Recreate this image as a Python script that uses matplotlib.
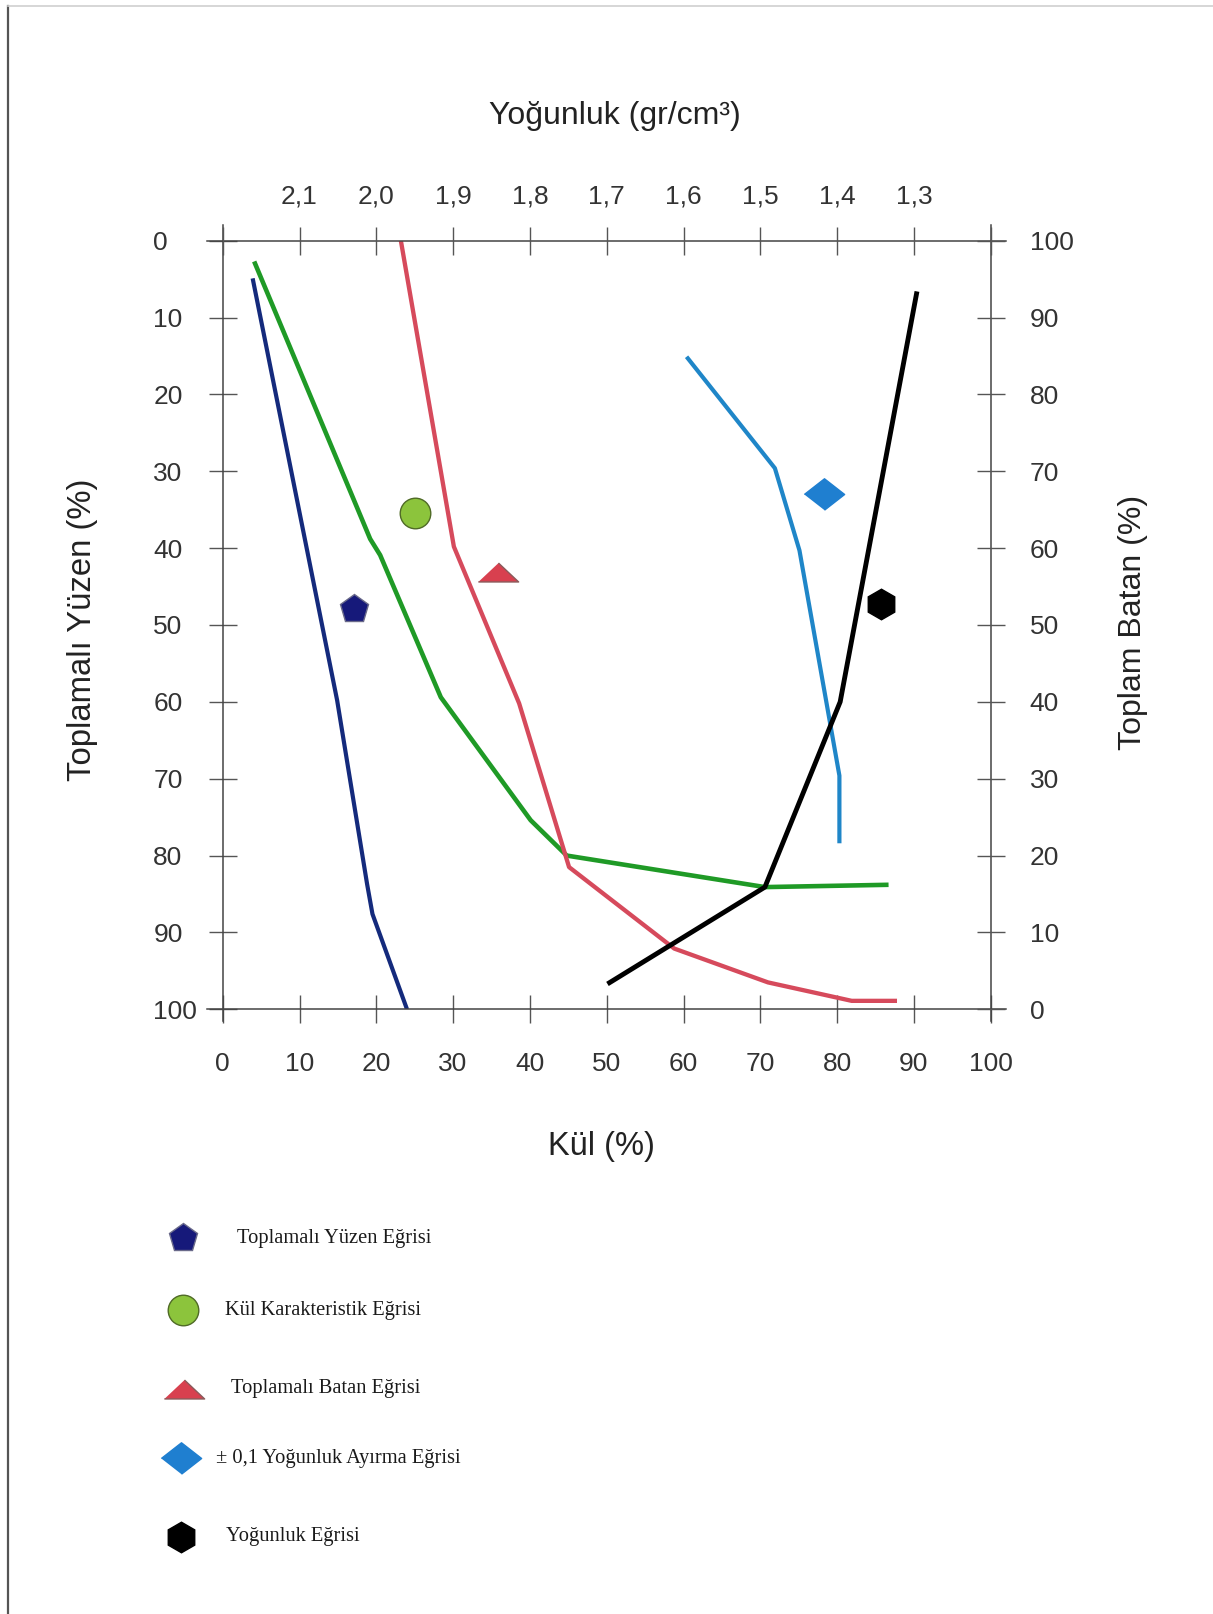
import matplotlib.pyplot as plt

plt.rcParams['font.family'] = ['Liberation Sans', 'DejaVu Sans']

# curves: ash % (x) vs cumulative % on the left scale (y)
yuzen_kul = [3.9, 14.9, 18.8, 19.5, 24.0]
yuzen_pct = [4.9, 59.8, 83.7, 87.6, 100.0]

kul_kar_x = [4.1, 19.2, 20.5, 28.4, 40.1, 44.8, 70.6, 86.7]
kul_kar_y = [2.7, 38.8, 40.9, 59.4, 75.4, 80.0, 84.1, 83.8]

batan_kul = [23.2, 30.1, 38.6, 45.1, 58.8, 71.0, 81.9, 87.8]
batan_pct = [0.0, 39.8, 60.2, 81.5, 92.1, 96.5, 98.9, 98.9]

ayirma_x = [60.4, 71.9, 75.1, 80.3, 80.3]
ayirma_y = [15.1, 29.6, 40.3, 69.6, 78.4]

yog_x = [50.1, 70.6, 80.4, 90.4]
yog_y = [96.7, 84.1, 60.0, 6.6]

# marker positions inside the plot
mark_x = [17.05, 25.0, 35.8, 78.3, 85.7]
mark_y = [47.9, 35.4, 43.1, 33.0, 47.3]

ticks = list(range(0, 101, 10))
density_labels = ['', '2,1', '2,0', '1,9', '1,8', '1,7', '1,6', '1,5', '1,4', '1,3', '']

legend_labels = ['Toplamalı Yüzen Eğrisi', 'Kül Karakteristik Eğrisi',
                 'Toplamalı Batan Eğrisi', '± 0,1 Yoğunluk Ayırma Eğrisi',
                 'Yoğunluk Eğrisi']

tri = [(-1, -0.47), (1, -0.47), (0, 0.47)]
dia = [(-1, 0), (0, 0.78), (1, 0), (0, -0.78)]
styles = [
    dict(marker='p', ms=21, mfc='#16197a', mec='#6a6a8a', mew=1),
    dict(marker='o', ms=22, mfc='#8cc43c', mec='#4f6a26', mew=1),
    dict(marker=tri, ms=29, mfc='#d8404f', mec='#8a5a5a', mew=1),
    dict(marker=dia, ms=29, mfc='#1f7fd0', mec='#1f7fd0', mew=1),
    dict(marker='h', ms=22, mfc='#000000', mec='#000000', mew=1),
]

W, H = 1213, 1614
fig = plt.figure(figsize=(W / 100, H / 100), dpi=100)
ax = fig.add_axes([222.7 / W, 1 - 1009.3 / H, 768 / W, 768.6 / H])

ax.plot(yuzen_kul, yuzen_pct, color='#142a7c', lw=3, solid_capstyle='butt')
ax.plot(kul_kar_x, kul_kar_y, color='#1f9a26', lw=3.3, solid_capstyle='butt')
ax.plot(batan_kul, batan_pct, color='#d64a5c', lw=3.1, solid_capstyle='butt')
ax.plot(ayirma_x, ayirma_y, color='#1f86c8', lw=3, solid_capstyle='butt')
ax.plot(yog_x, yog_y, color='black', lw=3.5, solid_capstyle='butt')

for x, y, st in zip(mark_x, mark_y, styles):
    ax.plot([x], [y], ls='none', **st)

ax.set_xlim(0, 100)
ax.set_ylim(100, 0)

axr = ax.twinx()
axr.set_ylim(0, 100)
axt = ax.twiny()
axt.set_xlim(0, 100)

frame = dict(color='#444444', lw=1.1, clip_on=False)
ax.plot([-2, 102], [0, 0], **frame)
ax.plot([-2, 102], [100, 100], **frame)
ax.plot([0, 0], [-2, 101.5], **frame)
ax.plot([100, 100], [-2, 101.5], **frame)

for a in (ax, axr, axt):
    for s in a.spines.values():
        s.set_visible(False)

tick_kw = dict(direction='inout', length=20, width=1, color='#555555',
               labelsize=19, labelcolor='#333333')
ax.set_xticks(ticks)
ax.set_yticks(ticks)
ax.tick_params(axis='x', pad=21, **tick_kw)
ax.tick_params(axis='y', pad=40, **tick_kw)
for t in ax.get_yticklabels():
    t.set_horizontalalignment('left')
axr.set_yticks(ticks)
axr.tick_params(axis='y', pad=18, **tick_kw)
axt.set_xticks(ticks, density_labels)
axt.tick_params(axis='x', pad=13, **tick_kw)

fig.text(615 / W, 1 - 116 / H, 'Yoğunluk (gr/cm³)', fontsize=23, ha='center', va='center', color='#222222')
fig.text(601 / W, 1 - 1146 / H, 'Kül (%)', fontsize=23.5, ha='center', va='center', color='#222222')
fig.text(83 / W, 1 - 630 / H, 'Toplamalı Yüzen (%)', fontsize=23.7, rotation=90,
         ha='center', va='center', color='#222222')
fig.text(1133 / W, 1 - 622 / H, 'Toplam Batan (%)', fontsize=23, rotation=90,
         ha='center', va='center', color='#222222')

# legend block under the chart, laid out in pixel coordinates
lg = fig.add_axes([0, 0, 1, 1], zorder=-1)
lg.set_xlim(0, W)
lg.set_ylim(H, 0)
lg.axis('off')
leg_y = [1238, 1310, 1389, 1458, 1537]
leg_mx = [183, 183, 184, 181, 181]
leg_tx = [237, 225, 231, 216, 226]
for my, mx, tx, lab, st in zip(leg_y, leg_mx, leg_tx, legend_labels, styles):
    lg.plot([mx], [my], ls='none', **st)
    lg.text(tx, my, lab, fontsize=14.8, family='Liberation Serif', va='center', color='#1a1a1a')

# thin page border seen on the scan
lg.plot([7.5, 7.5], [6, H], color='#555555', lw=1.6)
lg.plot([7.5, W], [6, 6], color='#d0d0d0', lw=1.2)

fig.savefig('out.png', dpi=100)
